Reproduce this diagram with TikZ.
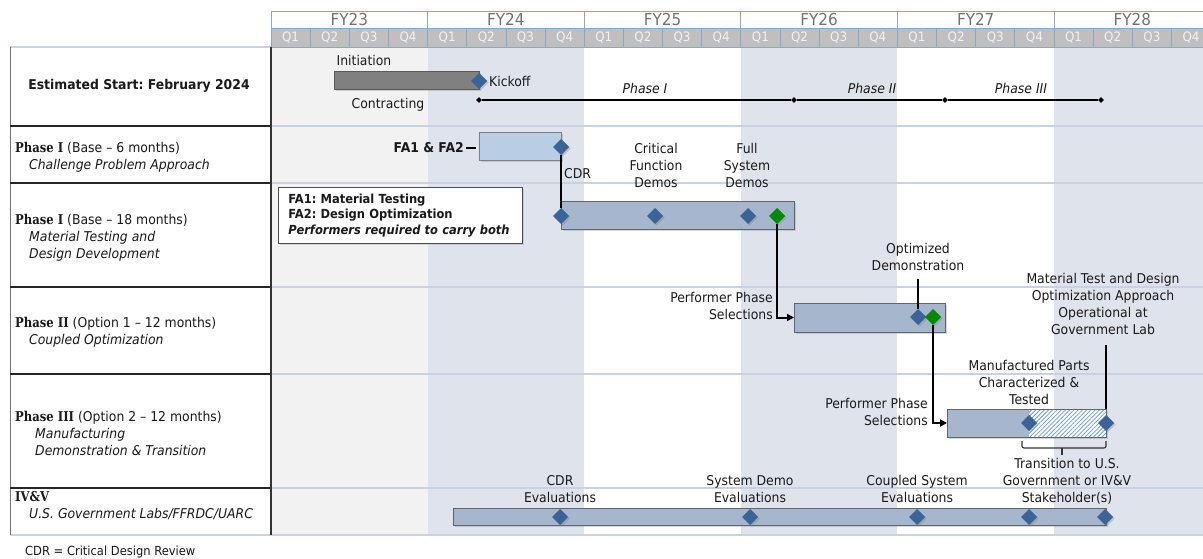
\documentclass[tikz,border=0pt]{standalone}
\usepackage{fontspec}
\setmainfont{DejaVu Sans}[FakeStretch=0.92]
\newfontfamily\phfont{DejaVu Serif}[FakeStretch=0.86]
\usetikzlibrary{shapes.geometric,arrows.meta,patterns.meta,shadows}
\frenchspacing
\definecolor{bandc}{HTML}{DFE3EB}
\definecolor{bandz}{HTML}{F2F2F2}
\definecolor{gridl}{HTML}{C8D2E2}
\definecolor{hdrline}{HTML}{8FA5C6}
\definecolor{qfill}{HTML}{BFBFBF}
\definecolor{dblue}{HTML}{3A6497}
\definecolor{dgreen}{HTML}{008A00}
\definecolor{barfill}{HTML}{A6B6CD}
\definecolor{barlite}{HTML}{B9CDE5}
\definecolor{barline}{HTML}{5F6670}
\definecolor{initgray}{HTML}{808080}
\definecolor{initline}{HTML}{5A5A5A}
\definecolor{hatchc}{HTML}{6B9BDC}
\definecolor{txtc}{HTML}{1A1A1A}
\newcommand\mainsz{\fontsize{13.5}{17}\selectfont}
\newcommand\boxsz{\fontsize{12.5}{15.5}\selectfont}
\begin{document}
\begin{tikzpicture}[x=1pt,y=-1pt,
  lbl/.style={font=\mainsz, inner sep=0pt, text=txtc, align=center},
  ltxt/.style={font=\mainsz, inner sep=0pt, text=txtc, align=left, anchor=west},
  gbar/.style={draw=barline, fill=barfill, line width=1pt, inner sep=0pt, outer sep=0pt,
     drop shadow={shadow xshift=1.5pt, shadow yshift=-1.5pt, opacity=0.3}},
  mstone/.style={diamond, fill=dblue, minimum width=16pt, minimum height=16pt, inner sep=0pt, outer sep=0pt,
     drop shadow={shadow xshift=1.5pt, shadow yshift=-1.5pt, opacity=0.35}},
  mgreen/.style={mstone, fill=dgreen},
  tdot/.style={diamond, fill=black, minimum width=6pt, minimum height=6pt, inner sep=0pt},
  conn/.style={line width=2pt, black},
  arr/.style={conn, -{Triangle[length=7pt,width=7pt]}},
  qtxt/.style={font=\fontsize{13}{14}\selectfont, text=white!95!black, inner sep=0pt},
  ytxt/.style={font=\fontsize{16.5}{18}\selectfont, text=black!55, inner sep=0pt}
]
\useasboundingbox (0,0) rectangle (1203,559);
\fill[white] (0,0) rectangle (1203,559);

% ---- year bands ----
\fill[bandz] (271,47) rectangle (427.6,535);
\fill[bandc] (427.6,47) rectangle (584.2,535);
\fill[bandc] (740.8,47) rectangle (897.4,535);
\fill[bandc] (1054,47) rectangle (1203,535);
\foreach \y in {126,183,287,374,488} \draw[gridl, line width=1.5pt] (271,\y) -- (1203,\y);
\draw[gridl, line width=1.5pt] (10,535) -- (1203,535);

% ---- header ----
\foreach \i/\yr in {0/23,1/24,2/25,3/26,4/27,5/28}{
  \pgfmathsetmacro\yx{271+\i*156.6}
  \draw[hdrline, fill=white, line width=0.8pt] (\yx,11) rectangle ++(156.6,17);
  \node[ytxt] (fy\yr) at (\yx+78.3,19.5) {FY\yr};
}
\foreach \i in {0,...,23}{
  \pgfmathsetmacro\qx{271+\i*39.15}
  \pgfmathtruncatemacro\qn{mod(\i,4)+1}
  \draw[hdrline, fill=qfill, line width=0.8pt] (\qx,28) rectangle ++(39.15,19);
  \node[qtxt] (q\i) at (\qx+19.575,37.5) {Q\qn};
}

% ---- left column ----
\draw[gridl, line width=1.2pt] (10,47) -- (271,47);
\draw[black!55, line width=0.8pt] (10,47) -- (10,535);
\foreach \y in {126,183,287,374,488} \draw[black!85, line width=1.3pt] (10,\y) -- (271,\y);
\draw[black!80, line width=1.3pt] (271,47) -- (271,535);

\node[lbl, font=\mainsz\bfseries] (est) at (139,86) {Estimated Start: February 2024};
\node[ltxt] (lr2) at (15,157) {{\phfont\bfseries Phase I} (Base -- 6 months)\\\hspace*{14pt}\textit{Challenge Problem Approach}};
\node[ltxt] (lr3) at (15,238) {{\phfont\bfseries Phase I} (Base -- 18 months)\\\hspace*{14pt}\textit{Material Testing and}\\\hspace*{14pt}\textit{Design Development}};
\node[ltxt] (lr4) at (15,332) {{\phfont\bfseries Phase II} (Option 1 -- 12 months)\\\hspace*{14pt}\textit{Coupled Optimization}};
\node[ltxt] (lr5) at (15,433) {{\phfont\bfseries Phase III} (Option 2 -- 12 months)\\\hspace*{20pt}\textit{Manufacturing}\\\hspace*{20pt}\textit{Demonstration \& Transition}};
\node[ltxt] (lr6) at (15,506) {{\phfont\bfseries IV\&V}\\\hspace*{14pt}\textit{U.S. Government Labs/FFRDC/UARC}};
\node[anchor=west, inner sep=0pt, font=\fontsize{12.5}{15}\selectfont, text=txtc] (fn) at (25,552) {CDR = Critical Design Review};

% ---- row 1 ----
\node[lbl] (init) at (364,60) {Initiation};
\node[gbar, fill=initgray, draw=initline, minimum width=145pt, minimum height=18pt, anchor=north west] (ib) at (334,72) {};
\node[mstone] (kick) at (479,81) {};
\node[lbl, anchor=west] (kickl) at (489,81) {Kickoff};
\node[lbl] (contr) at (388,105) {Contracting};
\node[tdot] (c0) at (479,100) {};
\node[tdot] (c1) at (794,100) {};
\node[tdot] (c2) at (945,100) {};
\node[tdot] (c3) at (1101,100) {};
\draw[line width=1.5pt] (c0) -- (c1) -- (c2) -- (c3);
\node[lbl, font=\mainsz\itshape] (ph1) at (645,88) {Phase I};
\node[lbl, font=\mainsz\itshape] (ph2) at (872,88) {Phase II};
\node[lbl, font=\mainsz\itshape] (ph3) at (1021,88) {Phase III};

% ---- row 2 ----
\node[gbar, fill=barlite, draw=black!50, minimum width=82pt, minimum height=28pt, anchor=north west] (p1a) at (479,133) {};
\node[lbl, font=\mainsz\bfseries, anchor=east] (fa) at (464,148) {FA1 \& FA2};
\coordinate (fadash) at (476,148);
\draw[line width=1.6pt] ([xshift=2pt]fa.east) -- (fadash);
\node[mstone] (m1) at (561,147) {};
\node[lbl, anchor=west] (cdr) at (564,174) {CDR};
\node[lbl] (cfd) at (656,165) {Critical\\Function\\Demos};
\node[lbl] (fsd) at (747,165) {Full\\System\\Demos};

% ---- row 3 ----
\node[draw=black!70, fill=white, line width=0.8pt, anchor=north west, minimum width=244pt, minimum height=56pt,
      inner xsep=10pt, inner ysep=0pt, text width=224pt, align=left, font=\boxsz\bfseries, text=txtc,
      drop shadow={shadow xshift=1.5pt, shadow yshift=-1.5pt, opacity=0.25}] (fabox) at (278,187)
      {FA1: Material Testing\\FA2: Design Optimization\\\textit{Performers required to carry both}};
\node[gbar, minimum width=233pt, minimum height=27pt, anchor=north west] (p1b) at (561,202) {};
\node[mstone] (m2) at (561,216) {};
\node[mstone] (m3) at (655,216) {};
\node[mstone] (m4) at (748,216) {};
\node[mgreen] (g1) at (777,216) {};
\draw[conn] (m1.south) -- (m2.north);

% ---- row 4 ----
\node[gbar, minimum width=151pt, minimum height=29pt, anchor=north west] (p2) at (794,303) {};
\node[lbl, align=right, anchor=east] (pps1) at (773,306) {Performer Phase\\Selections};
\draw[arr] (g1.south) |- (p2.west);
\node[lbl] (optd) at (918,257) {Optimized\\Demonstration};
\node[mstone] (m5) at (918,317) {};
\node[mgreen] (g2) at (933,317) {};
\coordinate (optt) at (918,279);
\draw[conn] (optt) -- (m5.north);

% ---- row 5 ----
\node[lbl] (matl) at (1103,304) {Material Test and Design\\Optimization Approach\\Operational at\\Government Lab};
\node[gbar, minimum width=159pt, minimum height=28pt, anchor=north west] (p3) at (947,409) {};
\fill[white] (1029,409) rectangle (1106,437);
\fill[pattern={Lines[angle=45,distance=3pt,line width=0.8pt]}, pattern color=hatchc] (1029,409) rectangle (1106,437);
\draw[barline, line width=1pt] (p3.north west) rectangle (p3.south east);
\node[lbl, align=right, anchor=east] (pps2) at (928,412) {Performer Phase\\Selections};
\draw[arr] (g2.south) |- (p3.west);
\node[lbl] (mfp) at (1029,382) {Manufactured Parts\\Characterized \&\\Tested};
\node[mstone] (m6) at (1029,423) {};
\node[mstone] (m7) at (1106,423) {};
\coordinate (matt) at (1106,345);
\draw[conn, line width=1.6pt] (matt) -- (p3.north east);
\draw[black!80, line width=1.1pt, rounded corners=2pt] (1022,441) -- (1022,448) -- (1106,448) -- (1106,441);
\draw[black!80, line width=1.1pt] (1062,448) -- (1062,455);
\node[lbl] (trans) at (1067,481) {Transition to U.S.\\Government or IV\&V\\Stakeholder(s)};

% ---- row 6 ----
\node[gbar, minimum width=653pt, minimum height=17pt, anchor=north west] (ivv) at (453,508) {};
\node[mstone] (v1) at (560,517) {};
\node[mstone] (v2) at (750,517) {};
\node[mstone] (v3) at (917,517) {};
\node[mstone] (v4) at (1029,517) {};
\node[mstone] (v5) at (1105,517) {};
\node[lbl] (cdre) at (560,489) {CDR\\Evaluations};
\node[lbl] (sde) at (750,489) {System Demo\\Evaluations};
\node[lbl] (cse) at (917,489) {Coupled System\\Evaluations};
\end{tikzpicture}
\end{document}
